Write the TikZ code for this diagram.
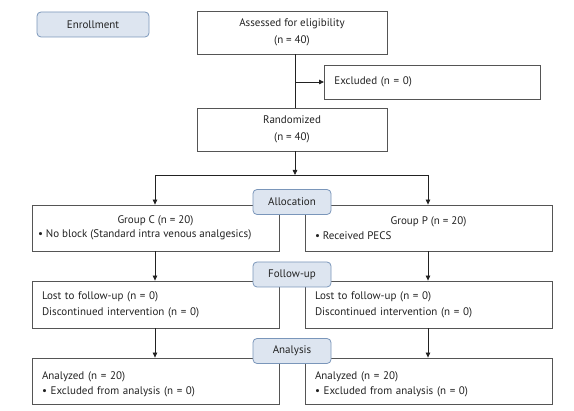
\documentclass[tikz,border=0pt]{standalone}
\usepackage{fontspec}
\setmainfont{PT Sans}
\usetikzlibrary{arrows.meta}
\definecolor{txt}{HTML}{222222}
\definecolor{edge}{HTML}{555555}
\definecolor{lblfill}{HTML}{DDE5F0}
\definecolor{lbledge}{HTML}{7A96BA}
\begin{document}
\begin{tikzpicture}[x=1pt,y=-1pt,
  every node/.style={font=\fontsize{11}{16}\selectfont, text=txt},
  box/.style={draw=edge, line width=0.8pt, inner sep=0pt, minimum width=#1},
  box/.default=247,
  lbl/.style={draw=lbledge, fill=lblfill, line width=0.8pt, rounded corners=4pt, minimum width=78, minimum height=25, inner sep=0pt},
  conn/.style={draw=txt, line width=0.8pt},
  arr/.style={conn, -{Triangle[length=5pt,width=4.5pt]}}
]
\useasboundingbox (0,0) rectangle (574,411);

% Enrollment label
\node[lbl, minimum width=112] (enr) at (93,24.5) {Enrollment};

% top boxes
\node[box=190, minimum height=43, align=center, font=\fontsize{11}{17.5}\selectfont] (assess) at (292,32.5) {Assessed for eligibility\\(n = 40)};
\node[box=216, minimum height=34, anchor=west, text width=196, align=left, inner xsep=10pt] (excl) at (324,82) {Excluded (n = 0)};
\node[box=190, minimum height=43, align=center, font=\fontsize{11}{17.5}\selectfont] (rand) at (292,129.5) {Randomized\\(n = 40)};

% group boxes
\node[box, minimum height=46, font=\fontsize{11}{14.5}\selectfont] (gc) at (155.5,228) {\parbox{235pt}{\centering Group C (n = 20)\par\raggedright\textbullet\ No block (Standard intra venous analgesics)\par}};
\node[box, minimum height=46, font=\fontsize{11}{14.5}\selectfont] (gp) at (428.5,228) {\parbox{227pt}{\centering Group P (n = 20)\par\raggedright\textbullet\ Received PECS\par}};

% follow-up boxes
\node[box, minimum height=47, text width=227, align=left, inner xsep=10pt] (fc) at (155.5,304.5) {Lost to follow-up (n = 0)\\Discontinued intervention (n = 0)};
\node[box, minimum height=47, text width=227, align=left, inner xsep=10pt] (fp) at (428.5,304.5) {Lost to follow-up (n = 0)\\Discontinued intervention (n = 0)};

% analysis boxes
\node[box, minimum height=46, text width=227, align=left, inner xsep=10pt, font=\fontsize{11}{15}\selectfont] (ac) at (155.5,381) {\rule{0pt}{14pt}Analyzed (n = 20)\\\textbullet\ Excluded from analysis (n = 0)};
\node[box, minimum height=46, text width=227, align=left, inner xsep=10pt, font=\fontsize{11}{15}\selectfont] (ap) at (428.5,381) {\rule{0pt}{14pt}Analyzed (n = 20)\\\textbullet\ Excluded from analysis (n = 0)};

% stage labels
\node[lbl] (alloc) at (292,202) {Allocation};
\node[lbl] (follow) at (292,274.5) {Follow-up};
\node[lbl] (anal) at (292,351) {Analysis};

% connectors
\coordinate (split) at (295,175);
\coordinate (cl) at (155,175);
\coordinate (cr) at (428,175);
\draw[conn] ([xshift=3pt]assess.south) -- ([xshift=3pt]rand.north);
\draw[arr] (excl.west -| split) -- (excl.west);
\draw[arr] ([xshift=3pt]rand.south) -- (split);
\draw[conn] (cl) -- (cr);
\draw[arr] (cl) -- (cl |- gc.north);
\draw[arr] (cr) -- (cr |- gp.north);
\draw[arr] (gc.south -| cl) -- (cl |- fc.north);
\draw[arr] (gp.south -| cr) -- (cr |- fp.north);
\draw[arr] (fc.south -| cl) -- (cl |- ac.north);
\draw[arr] (fp.south -| cr) -- (cr |- ap.north);
\end{tikzpicture}
\end{document}
